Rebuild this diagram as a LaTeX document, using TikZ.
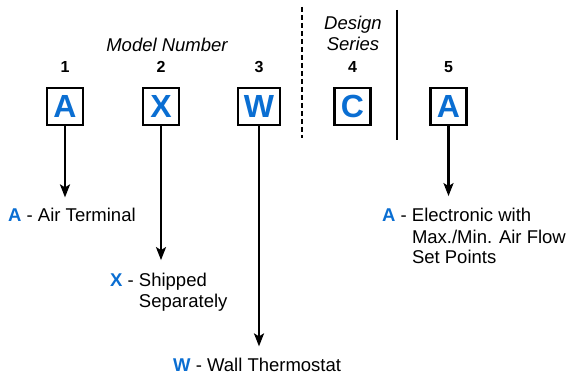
\documentclass[tikz,border=0pt]{standalone}
\usepackage{fontspec}
\setmainfont{Liberation Sans}
\usetikzlibrary{arrows.meta}
\definecolor{codeblue}{RGB}{10,110,210}
\newcommand{\code}[1]{\textcolor{codeblue}{\bfseries #1}}

\begin{document}
\begin{tikzpicture}[x=1pt, y=-1pt, >={Stealth[length=13pt,width=10pt,inset=3pt]},
    every node/.style={font=\fontsize{18.5}{21}\selectfont, inner sep=0pt},
    codebox/.style={draw, line width=2.8pt, minimum width=36pt, minimum height=37pt,
      font=\fontsize{32}{32}\selectfont\bfseries, text=codeblue},
    digit/.style={font=\fontsize{16}{16}\selectfont\bfseries},
    pointer/.style={->, line width=2.3pt, shorten >=11pt},
    desc/.style={anchor=base west}]
  \useasboundingbox (0,0) rectangle (570,374);
  % code letters
  \node[codebox] (b1) at (65,106.5) {A};
  \node[codebox] (b2) at (161,106.5) {X};
  \node[codebox, minimum width=42pt] (b3) at (259,106.5) {W};
  \node[codebox] (b4) at (352.5,106.5) {C};
  \node[codebox] (b5) at (448.5,106.5) {A};
  \foreach \i in {1,...,5}
    \node[digit] (n\i) at (b\i |- 0,67) {\i};
  % headings and dividers
  \node[font=\fontsize{18.5}{21}\selectfont\itshape] (model) at (167,44.5) {Model Number};
  \node[font=\fontsize{18.5}{21}\selectfont\itshape, align=center] (design) at (353,33.5) {Design\\Series};
  \draw[line width=2.3pt, dash pattern=on 5pt off 3pt] (302,7) -- (302,138);
  \draw[line width=2.3pt] (397,10) -- (397,140);
  % meanings
  \node[desc] (l1) at (8,222) {\code{A} - Air Terminal};
  \node[desc] (l2) at (110,286) {\code{X} - \begin{tabular}[t]{@{}l@{}}Shipped\\Separately\end{tabular}};
  \node[desc] (l3) at (173,371) {\code{W} - Wall Thermostat};
  \node[desc] (l5) at (382,222) {\code{A} - \begin{tabular}[t]{@{}l@{}}Electronic with\\Max./Min. Air Flow\\Set Points\end{tabular}};
  \foreach \i in {1,2,3,5}
    \draw[pointer] (b\i) -- (b\i |- l\i.north);
\end{tikzpicture}
\end{document}
